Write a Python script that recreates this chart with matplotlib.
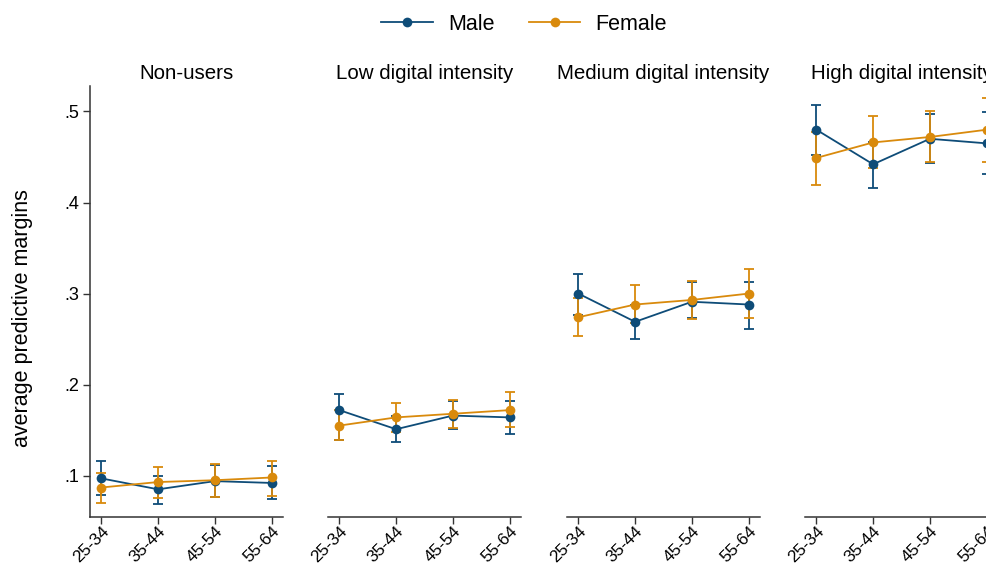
import matplotlib
matplotlib.use("Agg")
import matplotlib.pyplot as plt
import numpy as np

plt.rcParams['font.family'] = ['Liberation Sans', 'DejaVu Sans']

age_groups = ["25-34", "35-44", "45-54", "55-64"]
panels = ["Non-users", "Low digital intensity", "Medium digital intensity", "High digital intensity"]

# Predicted margins with 95% confidence bounds, one row per panel
male = [
    [0.097, 0.085, 0.094, 0.092],
    [0.172, 0.151, 0.166, 0.164],
    [0.300, 0.269, 0.291, 0.288],
    [0.480, 0.442, 0.470, 0.465],
]
male_lo = [
    [0.079, 0.069, 0.077, 0.074],
    [0.139, 0.137, 0.151, 0.146],
    [0.277, 0.250, 0.273, 0.261],
    [0.452, 0.416, 0.443, 0.431],
]
male_hi = [
    [0.1165, 0.100, 0.112, 0.111],
    [0.190, 0.165, 0.1825, 0.182],
    [0.322, 0.287, 0.313, 0.313],
    [0.507, 0.467, 0.497, 0.499],
]
female = [
    [0.087, 0.093, 0.095, 0.098],
    [0.155, 0.164, 0.168, 0.172],
    [0.274, 0.288, 0.293, 0.300],
    [0.449, 0.466, 0.472, 0.480],
]
female_lo = [
    [0.070, 0.075, 0.077, 0.078],
    [0.139, 0.148, 0.152, 0.153],
    [0.253, 0.268, 0.272, 0.273],
    [0.419, 0.438, 0.444, 0.445],
]
female_hi = [
    [0.103, 0.110, 0.113, 0.1165],
    [0.172, 0.180, 0.183, 0.1915],
    [0.295, 0.309, 0.314, 0.327],
    [0.478, 0.4945, 0.501, 0.515],
]

yticks = [0.1, 0.2, 0.3, 0.4, 0.5]
ytick_labels = [".1", ".2", ".3", ".4", ".5"]

male_color = "#0e4c78"
female_color = "#d98a0c"
spine_color = "#333333"

W, H = 987, 565
fig = plt.figure(figsize=(W / 100, H / 100), dpi=100)

lefts = [90, 328, 567, 805]
ax_w = 193
top_px, bot_px = 86, 517

x = np.arange(len(age_groups))
handles = []
for i, name in enumerate(panels):
    ax = fig.add_axes([lefts[i] / W, 1 - bot_px / H, ax_w / W, (bot_px - top_px) / H])
    for vals, lo, hi, col, lab in [
        (male[i], male_lo[i], male_hi[i], male_color, "Male"),
        (female[i], female_lo[i], female_hi[i], female_color, "Female"),
    ]:
        v = np.array(vals)
        err = np.vstack([v - np.array(lo), np.array(hi) - v])
        ax.errorbar(x, v, yerr=err, fmt="none", ecolor=col, elinewidth=1.3,
                    capsize=3.5, capthick=1.3, zorder=2)
        h, = ax.plot(x, v, color=col, lw=1.3, marker="o", markersize=7,
                     markeredgewidth=0, label=lab, zorder=3)
        if i == 0:
            handles.append(h)
    ax.set_xlim(-0.2, 3.2)
    ax.set_ylim(0.0546, 0.528)
    ax.set_xticks(x)
    ax.set_xticklabels(age_groups, rotation=45, ha="right", va="top",
                       rotation_mode="anchor", fontsize=12.3)
    ax.tick_params(axis="x", length=5, width=1, color=spine_color, pad=0)
    for s in ["top", "right"]:
        ax.spines[s].set_visible(False)
    ax.spines["bottom"].set_color(spine_color)
    ax.spines["bottom"].set_linewidth(1.1)
    if i == 0:
        ax.set_yticks(yticks)
        ax.set_yticklabels(ytick_labels, fontsize=13)
        ax.tick_params(axis="y", length=5, width=1, color=spine_color, pad=3)
        ax.spines["left"].set_color(spine_color)
        ax.spines["left"].set_linewidth(1.1)
        ax.set_ylabel("average predictive margins", fontsize=15.5)
        ax.yaxis.set_label_coords((23 - lefts[0]) / ax_w, (bot_px - 318) / (bot_px - top_px))
        ax.yaxis.label.set_va("center")
    else:
        ax.spines["left"].set_visible(False)
        ax.set_yticks([])
    ax.set_title(name, fontsize=14.8, pad=5)
    ax.patch.set_alpha(0)

fig.legend(handles=handles, labels=["Male", "Female"], loc="center",
           bbox_to_anchor=(524 / W, 1 - 24 / H), ncol=2, frameon=False,
           fontsize=15.5, handlelength=2.4, columnspacing=1.6, handletextpad=0.7)

fig.savefig("out.png", dpi=100)
